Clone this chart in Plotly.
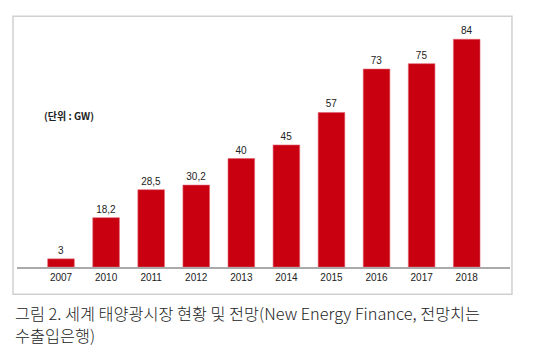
import plotly.graph_objects as go

years = ["2007", "2010", "2011", "2012", "2013", "2014", "2015", "2016", "2017", "2018"]
capacity_gw = [3, 18.2, 28.5, 30.2, 40, 45, 57, 73, 75, 84]
value_labels = ["3", "18,2", "28,5", "30,2", "40", "45", "57", "73", "75", "84"]
unit_label = "(단위 : GW)"
caption_lines = ["그림 2. 세계 태양광시장 현황 및 전망(New Energy Finance, 전망치는", "수출입은행)"]

fig = go.Figure()
fig.add_trace(go.Bar(
    x=years, y=capacity_gw,
    text=value_labels, textposition="outside", cliponaxis=False,
    textfont=dict(family="Liberation Sans, Arial", size=10, color="#222"),
    marker=dict(color="#c8000f", line=dict(color="#e06070", width=0.6)),
    width=0.59, hoverinfo="skip",
))

annotations = [
    dict(text=unit_label, xref="paper", yref="paper", x=0.051, y=0.622,
         xanchor="left", yanchor="middle", showarrow=False,
         font=dict(family="Noto Sans CJK KR", size=10, color="#222", weight="bold")),
]
for i, line in enumerate(caption_lines):
    annotations.append(dict(
        text=line, xref="paper", yref="paper", x=-0.008, y=-0.188 - i * 0.09,
        xanchor="left", yanchor="middle", align="left", showarrow=False,
        font=dict(family="Noto Sans CJK KR", size=16.3, color="#222", weight=300)))

fig.update_layout(
    width=550, height=361,
    margin=dict(l=17, r=40, t=23, b=94, autoexpand=False),
    paper_bgcolor="white", plot_bgcolor="white",
    showlegend=False,
    xaxis=dict(type="category", range=[-0.976, 9.96], showgrid=False, automargin=False,
               showline=True, linecolor="#aaaaaa", linewidth=1.5,
               ticks="", ticklen=0,
               tickfont=dict(family="Liberation Sans, Arial", size=10, color="#222")),
    yaxis=dict(range=[0, 90], visible=False, showgrid=False, zeroline=False, automargin=False),
    shapes=[dict(type="rect", xref="paper", yref="paper",
                 x0=-0.0081, x1=1.004, y0=-0.112, y1=1.0275,
                 line=dict(color="#d0d0d0", width=1.5), fillcolor="rgba(0,0,0,0)",
                 layer="below")],
    annotations=annotations,
)

fig.write_html("out.html", config={"displayModeBar": False},
               post_script="document.body.style.margin='0';")
